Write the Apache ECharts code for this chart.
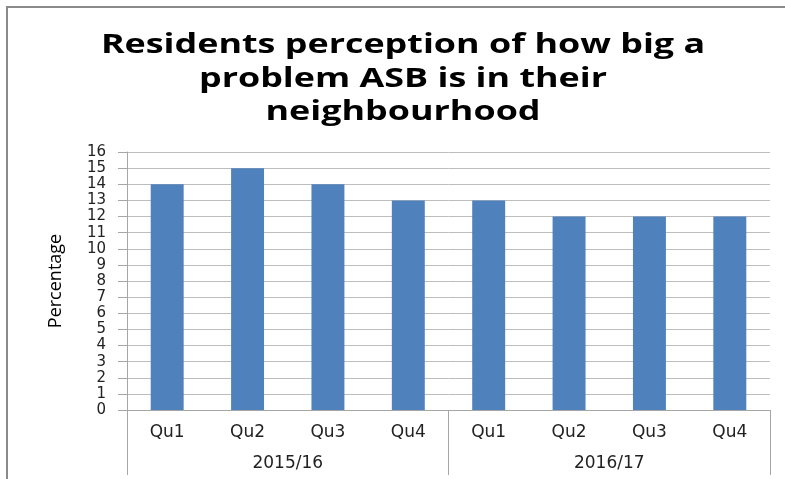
<!DOCTYPE html>
<html>
<head>
<meta charset="utf-8">
<script src="https://cdn.jsdelivr.net/npm/echarts@6/dist/echarts.min.js"></script>
<style>html,body{margin:0;padding:0;background:#fff}#c{width:785px;height:479px}</style>
</head>
<body>
<div id="c"></div>
<script>
const quarters = ['Qu1','Qu2','Qu3','Qu4','Qu1','Qu2','Qu3','Qu4'];
const years = ['2015/16','2016/17'];
const values = [14,15,14,13,13,12,12,12];
const titleText = 'Residents perception of how big a\nproblem ASB is in their\nneighbourhood';

const chart = echarts.init(document.getElementById('c'), null, {renderer:'canvas'});
chart.setOption({
  animation: false,
  backgroundColor: '#fff',
  graphic: [{
    type: 'polyline', shape: {points: [[7, 479], [7, 7], [785, 7]]},
    style: {stroke: '#8a8a8a', lineWidth: 2, fill: null}, silent: true
  }, {
    type: 'text', x: 403, y: 29, scaleX: 1.38, scaleY: 1.03, silent: true,
    style: {
      text: titleText, x: 0, y: 0, align: 'center', verticalAlign: 'top',
      font: 'bold 26px "Open Sans"', lineHeight: 32.5, fill: '#000'
    }
  }],
  grid: {left: 127, right: 15, top: 152, bottom: 69, containLabel: false},
  xAxis: [{
    type: 'category', data: quarters, position: 'bottom',
    axisLine: {show: true, lineStyle: {color: '#a6a6a6', width: 1}},
    axisTick: {show: false},
    axisLabel: {margin: 14, fontFamily: 'DejaVu Sans', fontSize: 17, color: '#222'}
  }, {
    type: 'category', data: years, position: 'bottom',
    axisLine: {show: false},
    axisTick: {show: true, length: 65, lineStyle: {color: '#a6a6a6'}},
    axisLabel: {margin: 45, fontFamily: 'DejaVu Sans', fontSize: 17, color: '#222'},
    splitLine: {show: false}
  }],
  yAxis: {
    type: 'value', min: 0, max: 16, interval: 1,
    name: 'Percentage', nameLocation: 'middle', nameGap: 62, nameRotate: 90,
    nameTextStyle: {fontFamily: 'Open Sans', fontSize: 18, color: '#000'},
    axisLine: {show: true, lineStyle: {color: '#a6a6a6'}},
    axisTick: {show: true, length: 9, lineStyle: {color: '#a6a6a6'}},
    axisLabel: {margin: 21, fontFamily: 'DejaVu Sans', fontSize: 15, color: '#222'},
    splitLine: {show: true, lineStyle: {color: '#bdbdbd', width: 1}}
  },
  series: [{
    type: 'bar', data: values, xAxisIndex: 0, barWidth: '41%',
    itemStyle: {color: '#4f81bd'}
  }]
});
</script>
</body>
</html>
